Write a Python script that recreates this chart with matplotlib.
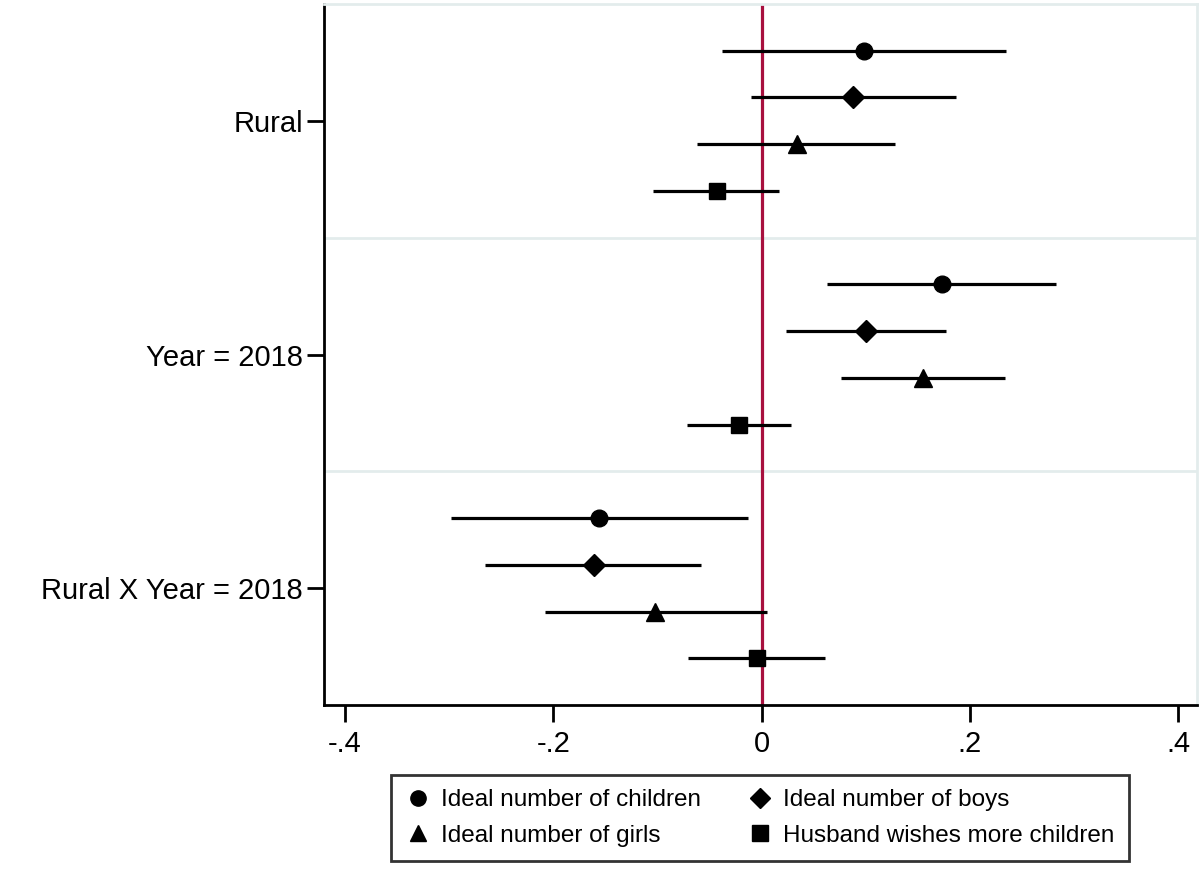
import matplotlib.pyplot as plt
from matplotlib.lines import Line2D

plt.rcParams["font.family"] = ["Liberation Sans", "DejaVu Sans"]

# Coefficients and 95% CIs
groups = ["Rural", "Year = 2018", "Rural X Year = 2018"]
series = [
    "Ideal number of children",
    "Ideal number of boys",
    "Ideal number of girls",
    "Husband wishes more children",
]
markers = ["o", "D", "^", "s"]
marker_sizes = [12, 11, 13, 12]

coef = [
    [0.098, 0.088, 0.034, -0.043],
    [0.173, 0.100, 0.155, -0.022],
    [-0.156, -0.161, -0.102, -0.004],
]
ci_low = [
    [-0.038, -0.010, -0.062, -0.104],
    [0.063, 0.023, 0.076, -0.072],
    [-0.298, -0.265, -0.208, -0.071],
]
ci_high = [
    [0.235, 0.187, 0.128, 0.017],
    [0.283, 0.177, 0.234, 0.028],
    [-0.013, -0.058, 0.005, 0.061],
]
xticks = [-0.4, -0.2, 0, 0.2, 0.4]
xticklabels = ["-.4", "-.2", "0", ".2", ".4"]

fig = plt.figure(figsize=(12.01, 8.74), dpi=100)
ax = fig.add_axes([324 / 1201, 1 - 705 / 874, (1197 - 324) / 1201, (705 - 4) / 874])

# separators between groups
for sep in [5, 10]:
    ax.axhline(sep, color="#e3ecec", lw=2, zorder=0)

ax.axvline(0, color="#a8103e", lw=2.3, zorder=1)

for g in range(len(groups)):
    for s in range(len(series)):
        row = g * 5 + s + 1
        ax.plot([ci_low[g][s], ci_high[g][s]], [row, row], color="black", lw=2.3,
                solid_capstyle="butt", zorder=2)
        ax.plot(coef[g][s], row, marker=markers[s], color="black",
                markersize=marker_sizes[s], linestyle="none", zorder=3)

ax.set_ylim(15, 0)
ax.set_xlim(-0.42, 0.418)
ax.set_yticks([2.5, 7.5, 12.5])
ax.set_yticklabels(groups, fontsize=21)
ax.set_xticks(xticks)
ax.set_xticklabels(xticklabels, fontsize=21)
ax.tick_params(axis="y", length=12, width=2, pad=3)
ax.tick_params(axis="x", length=12, width=2, pad=6)

ax.spines["left"].set_linewidth(2)
ax.spines["bottom"].set_linewidth(2)
ax.spines["top"].set_color("#e3ecec")
ax.spines["right"].set_color("#e3ecec")
ax.spines["top"].set_linewidth(2)
ax.spines["right"].set_linewidth(2)

handles = [Line2D([], [], marker=markers[i], color="black", linestyle="none",
                  markersize=marker_sizes[i] - 1) for i in range(4)]
order = [0, 2, 1, 3]
leg = fig.legend([handles[i] for i in order], [series[i] for i in order],
                 ncol=2, loc="center", bbox_to_anchor=(760 / 1201, 1 - 818 / 874),
                 fontsize=17.5, frameon=True, fancybox=False, edgecolor="black",
                 handletextpad=0.45, columnspacing=1.9, labelspacing=0.55,
                 borderpad=0.6, handlelength=1.0)
leg.get_frame().set_linewidth(2)

plt.savefig("out.png", dpi=100)
